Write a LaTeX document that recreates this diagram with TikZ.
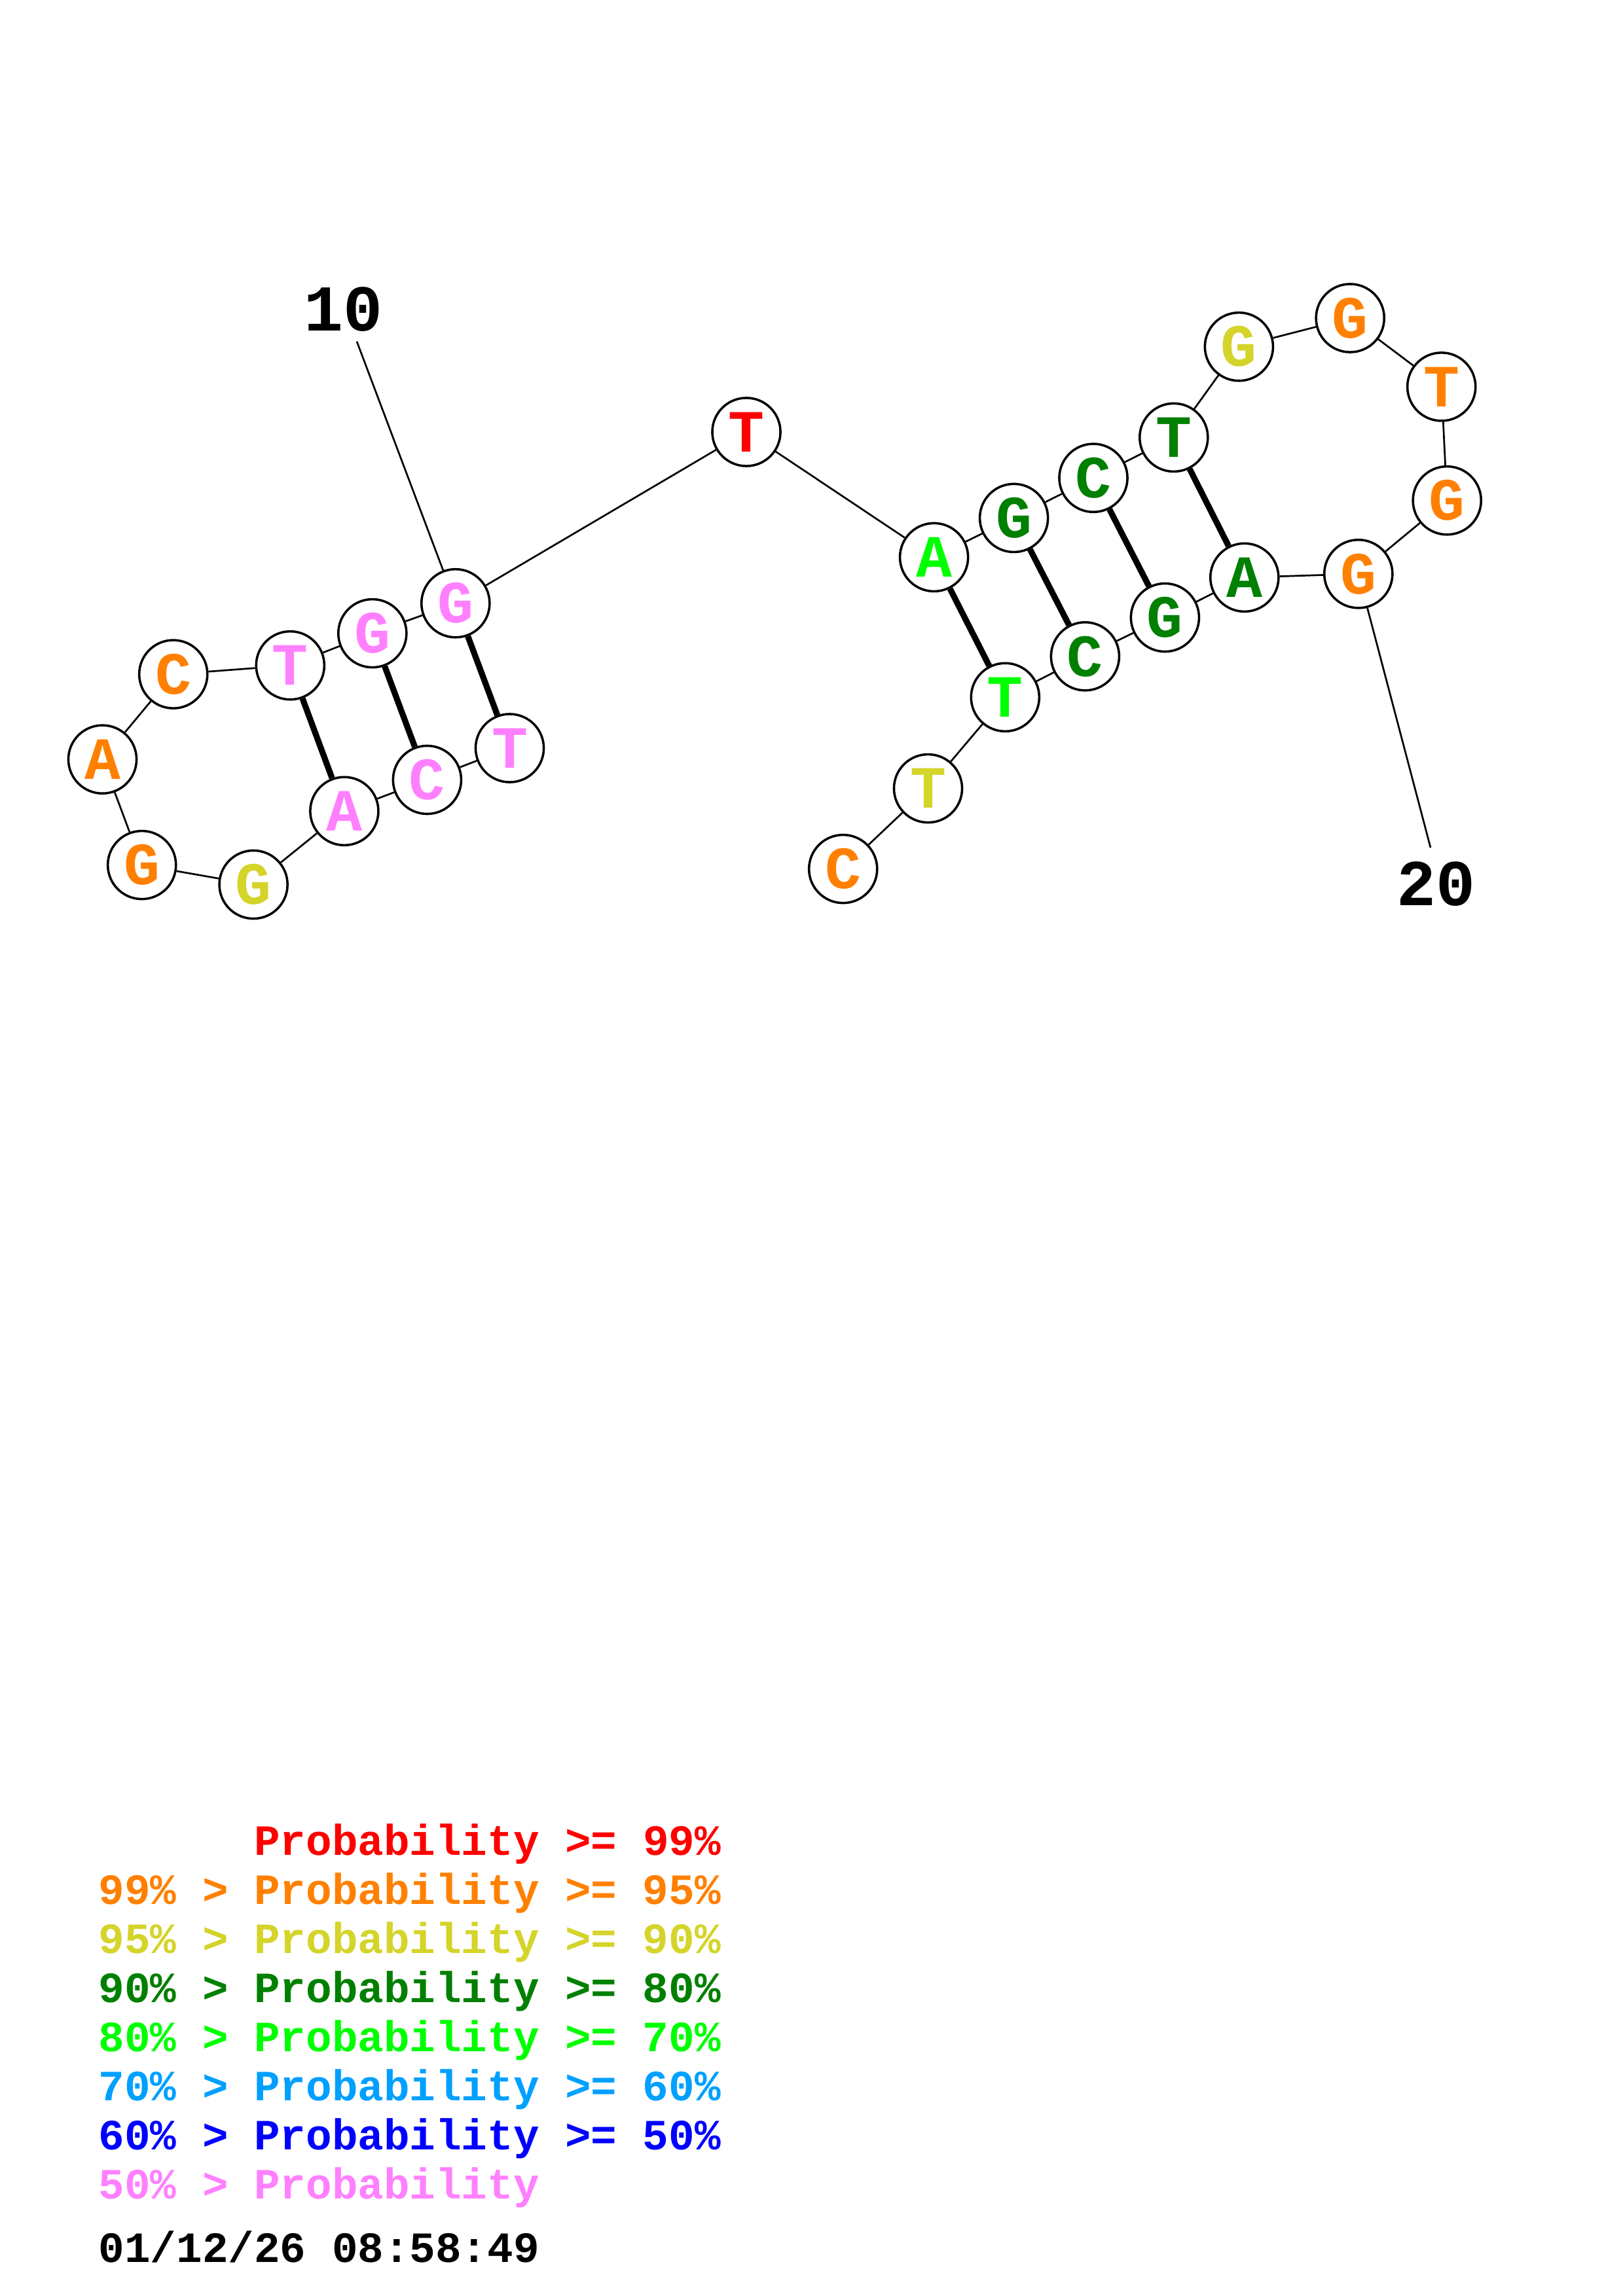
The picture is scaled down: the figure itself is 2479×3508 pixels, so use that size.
\documentclass[tikz,border=0pt]{standalone}
\usepackage{fontspec}
\setmonofont{Liberation Mono}
\usetikzlibrary{positioning}
\definecolor{pr99}{RGB}{255,0,0}
\definecolor{pr95}{RGB}{255,128,0}
\definecolor{pr90}{RGB}{212,212,42}
\definecolor{pr80}{RGB}{0,128,0}
\definecolor{pr70}{RGB}{0,255,0}
\definecolor{pr60}{RGB}{0,160,255}
\definecolor{pr50}{RGB}{0,0,255}
\definecolor{prlow}{RGB}{255,128,255}
\tikzset{
	nuc/.style={circle, draw, fill=white, line width=0.85pt, minimum size=25pt, inner sep=0pt,
		font=\ttfamily\bfseries\fontsize{22}{22}\selectfont},
	bb/.style={line width=0.65pt},
	pair/.style={line width=2.2pt},
	idx/.style={inner sep=0pt, font=\ttfamily\bfseries\fontsize{24}{24}\selectfont},
	legend/.style={anchor=base west, inner sep=0pt, font=\ttfamily\bfseries\fontsize{15.84}{18}\selectfont}
}

\begin{document}
\begin{tikzpicture}[x=0.24013pt, y=-0.24013pt]
	\useasboundingbox (0,0) rectangle (2479,3508);
	% left hairpin
	\node[nuc, text=prlow] (t1) at (778.5,1143) {T};
	\node[nuc, text=prlow] (c2) at (652.4,1191.5) {C};
	\node[nuc, text=prlow] (a3) at (525.9,1239.3) {A};
	\node[nuc, text=pr90] (g4) at (387.1,1351.5) {G};
	\node[nuc, text=pr95] (g5) at (216.7,1321.6) {G};
	\node[nuc, text=pr95] (a6) at (156.5,1160.2) {A};
	\node[nuc, text=pr95] (c7) at (264.7,1030.1) {C};
	\node[nuc, text=prlow] (t8) at (443.3,1016.7) {T};
	\node[nuc, text=prlow] (g9) at (568.8,967.6) {G};
	\node[nuc, text=prlow] (g10) at (695.8,921.7) {G};
	\node[nuc, text=pr99] (t11) at (1140,660) {T};
	% right hairpin
	\node[nuc, text=pr70] (a12) at (1426.6,851.4) {A};
	\node[nuc, text=pr80] (g13) at (1548.6,791.4) {G};
	\node[nuc, text=pr80] (c14) at (1670,730.2) {C};
	\node[nuc, text=pr80] (t15) at (1792.8,668.4) {T};
	\node[nuc, text=pr90] (g16) at (1892.4,529.7) {G};
	\node[nuc, text=pr95] (g17) at (2062.2,486) {G};
	\node[nuc, text=pr95] (t18) at (2201.7,590.9) {T};
	\node[nuc, text=pr95] (g19) at (2210.2,764.7) {G};
	\node[nuc, text=pr95] (g20) at (2074.8,876.8) {G};
	\node[nuc, text=pr80] (a21) at (1900.8,882.3) {A};
	\node[nuc, text=pr80] (g22) at (1779.4,943.5) {G};
	\node[nuc, text=pr80] (c23) at (1657.4,1002.8) {C};
	\node[nuc, text=pr70] (t24) at (1535.3,1065.3) {T};
	\node[nuc, text=pr90] (t25) at (1417.5,1204.6) {T};
	\node[nuc, text=pr95] (c26) at (1287.7,1327.6) {C};
	% backbone
	\draw[bb] (t1) -- (c2) -- (a3) -- (g4) -- (g5) -- (a6) -- (c7) -- (t8) -- (g9) -- (g10)
		-- (t11) -- (a12) -- (g13) -- (c14) -- (t15) -- (g16) -- (g17) -- (t18) -- (g19) -- (g20)
		-- (a21) -- (g22) -- (c23) -- (t24) -- (t25) -- (c26);
	% base pairs
	\draw[pair] (t1) -- (g10);
	\draw[pair] (c2) -- (g9);
	\draw[pair] (a3) -- (t8);
	\draw[pair] (a12) -- (t24);
	\draw[pair] (g13) -- (c23);
	\draw[pair] (c14) -- (g22);
	\draw[pair] (t15) -- (a21);
	% position marks
	\node[idx] (lab10) at (524.3,472.2) {10};
	\coordinate (end10) at (545,521.7);
	\draw[bb] (g10) -- (end10);
	\node[idx] (lab20) at (2193.7,1350.8) {20};
	\coordinate (end20) at (2185,1295);
	\draw[bb] (g20) -- (end20);
	% legend
	\node[legend, text=pr99] (leg99) at (150,2834) {\phantom{99\% > }Probability >= 99\%};
	\node[legend, text=pr95] (leg95) at (150,2909) {99\% > Probability >= 95\%};
	\node[legend, text=pr90] (leg90) at (150,2984) {95\% > Probability >= 90\%};
	\node[legend, text=pr80] (leg80) at (150,3059) {90\% > Probability >= 80\%};
	\node[legend, text=pr70] (leg70) at (150,3134) {80\% > Probability >= 70\%};
	\node[legend, text=pr60] (leg60) at (150,3209) {70\% > Probability >= 60\%};
	\node[legend, text=pr50] (leg50) at (150,3284) {60\% > Probability >= 50\%};
	\node[legend, text=prlow] (leglow) at (150,3359) {50\% > Probability};
	\node[legend] (stamp) at (150,3456) {01/12/26 08:58:49};
\end{tikzpicture}
\end{document}
